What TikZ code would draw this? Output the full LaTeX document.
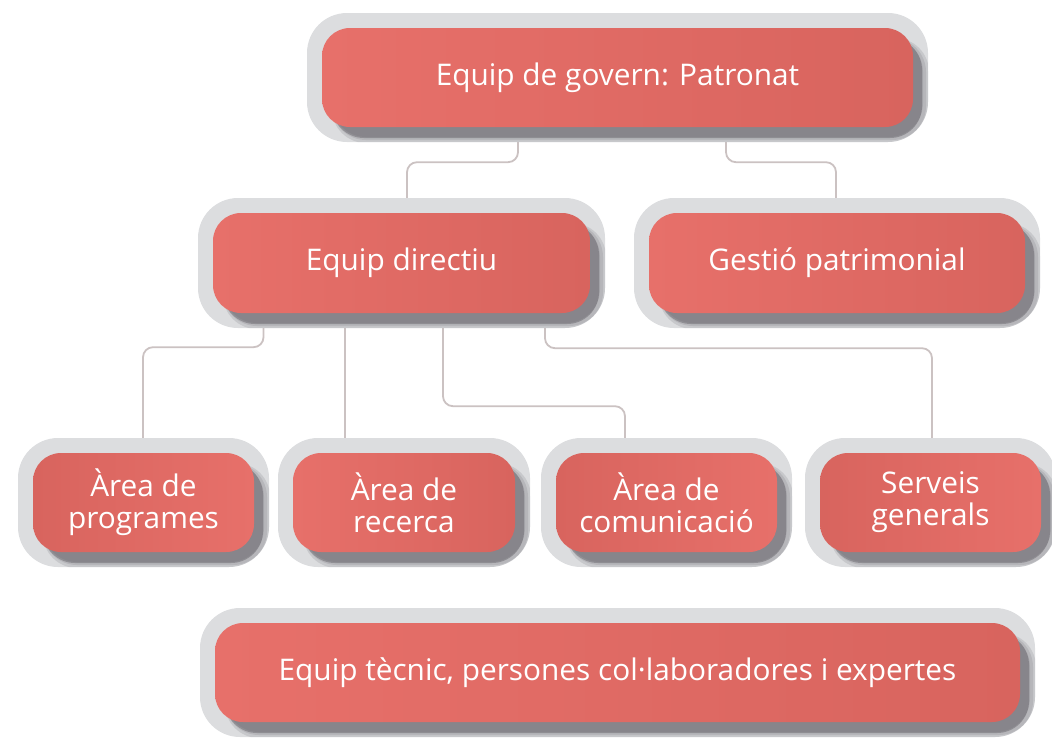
\documentclass[tikz,border=0pt]{standalone}
\usepackage{fontspec}
\setmainfont{Open Sans}
\usetikzlibrary{backgrounds}
\definecolor{redL}{HTML}{E7706A}
\definecolor{redD}{HTML}{D8645E}
\definecolor{shellc}{HTML}{DCDDDF}
\definecolor{shadowc}{HTML}{55515A}
\definecolor{connc}{HTML}{CBC2C2}
\tikzset{
  redbox/.style={rounded corners=28pt, text=white, align=center, inner sep=0pt,
    font=\fontsize{29.8}{32}\selectfont},
  lightleft/.style={left color=redL, right color=redD},
  lightright/.style={left color=redD, right color=redL},
  conn/.style={draw=connc, line width=1.8pt, rounded corners=10pt},
  shell/.style={fill=shellc, rounded corners=40pt},
  shadowbase/.style={fill=shadowc, fill opacity=0.38, rounded corners=32pt},
  shadowlayer/.style={fill=shadowc, fill opacity=0.15, rounded corners=34pt},
}
\newcommand\obox[7]{%
  \begin{scope}
    \fill[shell] ({#2-#4/2-15},{#3-#5/2-15}) rectangle ({#2+#4/2+15},{#3+#5/2+15});
    \clip[rounded corners=40pt] ({#2-#4/2-15},{#3-#5/2-15}) rectangle ({#2+#4/2+15},{#3+#5/2+15});
    \path[shadowbase] ({#2-#4/2+10},{#3-#5/2+10}) rectangle ({#2+#4/2+9},{#3+#5/2+11});
    \foreach \k in {18,15,12}{%
      \path[shadowlayer]
        ({#2-#4/2+10},{#3-#5/2+10}) rectangle ({#2+#4/2+\k-2},{#3+#5/2+\k-2});
    }
  \end{scope}
  \node[redbox,#7,minimum width=#4pt,minimum height=#5pt] (#1) at (#2,#3) {#6};
}
\begin{document}
\begin{tikzpicture}[x=1pt,y=-1pt]
\useasboundingbox (0,0) rectangle (1052,745);
\obox{top}{617.5}{77.5}{591}{99}{Equip de govern: Patronat}{lightleft}
\obox{dir}{401.5}{263}{377}{100}{Equip directiu}{lightleft}
\obox{gest}{837}{263}{376}{100}{Gestió patrimonial}{lightleft}
\obox{b1}{143.5}{502.5}{221}{99}{Àrea de\\programes}{lightright}
\obox{b2}{404}{502.5}{222}{99}{Àrea de\\recerca}{lightleft}
\obox{b3}{666.5}{502.5}{221}{99}{Àrea de\\comunicació}{lightright}
\obox{b4}{930.5}{502.5}{221}{99}{Serveis\\generals}{lightright}
\obox{eq}{617.5}{672.5}{805}{99}{Equip tècnic, persones col·laboradores i expertes}{lightleft}
\begin{scope}[on background layer]
  \draw[conn] ([xshift=-99.5pt]top.south) -- ++(0,35) -| ([xshift=5.5pt]dir.north);
  \draw[conn] ([xshift=108.5pt]top.south) -- ++(0,35) -| ([xshift=-1pt]gest.north);
  \draw[conn] ([xshift=-138pt]dir.south) -- ++(0,34) -| ([xshift=-0.5pt]b1.north);
  \draw[conn] ([xshift=-56.5pt]dir.south) coordinate (d2) -- (d2 |- b2.north);
  \draw[conn] ([xshift=41.5pt]dir.south) -- ++(0,93) -| ([xshift=-41.5pt]b3.north);
  \draw[conn] ([xshift=143.5pt]dir.south) -- ++(0,35) -| ([xshift=1.5pt]b4.north);
\end{scope}
\end{tikzpicture}
\end{document}
